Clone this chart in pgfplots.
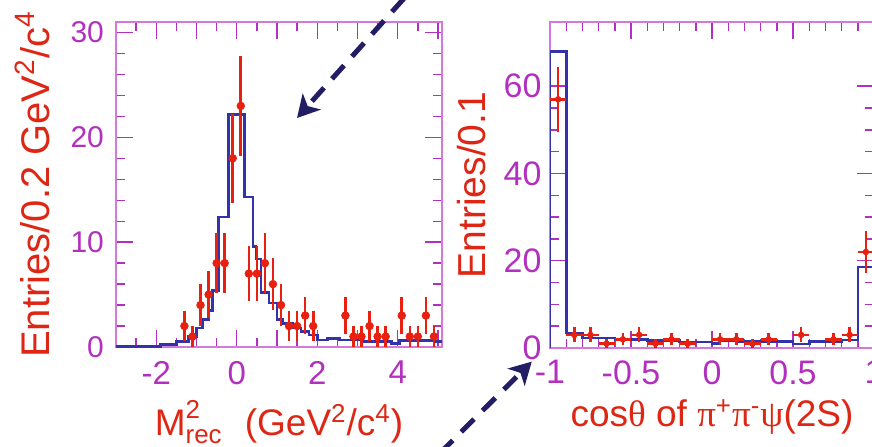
\documentclass[border=0pt]{standalone}
\usepackage{amsmath}
\usepackage{fontspec}
\setmainfont{Liberation Sans}
\newfontfamily\grk{Liberation Serif}
\usepackage{pgfplots}
\pgfplotsset{compat=1.18}
\usetikzlibrary{arrows.meta}

\definecolor{datared}{RGB}{232,32,16}
\definecolor{labred}{RGB}{222,38,20}
\definecolor{tickpurple}{RGB}{178,48,190}
\definecolor{framepink}{RGB}{212,120,218}
\definecolor{histblue}{RGB}{50,50,170}
\definecolor{arrownavy}{RGB}{35,30,100}

\pgfplotsset{
  panel/.style={
    scale only axis,
    anchor=south west,
    tick align=inside,
    xtick pos=both, ytick pos=both,
    major tick length=8.5pt, minor tick length=4.5pt,
    axis line style={framepink, line width=0.6pt},
    every tick/.style={tickpurple, line width=0.7pt},
    /pgf/number format/assume math mode=true,
    label style={labred},
    ylabel style={anchor=center},
    xlabel style={anchor=base},
  },
  dataerr/.style={only marks, datared, mark=*, mark size=1.9pt,
    error bars/y dir=both, error bars/y explicit, error bars/error mark=none,
    error bars/error bar style={line width=1.3pt, datared}},
}

\begin{document}
\begin{tikzpicture}
\useasboundingbox (0,0) rectangle (436pt,223pt);

% ---------------- left panel ----------------
\begin{axis}[panel,
  at={(58pt,49.5pt)}, width=163pt, height=162.5pt,
  xmin=-3, xmax=5.1, ymin=0, ymax=31,
  xtick={-3,-2,-1,0,1,2,3,4,5},
  xticklabels={{},-2,{},0,{},2,{},4,{}},
  minor x tick num=1,
  ytick={0,10,20,30}, minor y tick num=4,
  tick label style={tickpurple},
  xticklabel style={font=\fontsize{16.5}{18}\selectfont, yshift=-3.5pt},
  yticklabel style={font=\fontsize{15}{17}\selectfont, xshift=-2.5pt},
  xlabel={$\text{M}^{\text{2}}_{\text{rec}}$\hspace{0.6em}(GeV\textsuperscript{2}/c\textsuperscript{4})},
  ylabel={Entries/0.2 GeV\textsuperscript{2}/c\textsuperscript{4}},
  xlabel style={font=\fontsize{18.5}{20}\selectfont, at={(rel axis cs:0.5,-0.271)}},
  ylabel style={font=\fontsize{20}{22}\selectfont, at={(rel axis cs:-0.255,0.5)}},
]
\addplot[const plot, histblue, line width=1.3pt] coordinates {
 (-3.0,0.05) (-1.9,0.25) (-1.5,0.5) (-1.2,1.0) (-1.0,1.8) (-0.85,2.6)
 (-0.7,3.5) (-0.6,5.4) (-0.45,12.4) (-0.2,22.2) (0.2,14.3) (0.4,9.6)
 (0.48,8.4) (0.6,5.2) (0.8,4.2) (1.0,2.6) (1.15,2.25) (1.4,1.8)
 (1.6,1.5) (1.8,1.14) (2.0,0.67) (2.25,0.83) (2.55,0.65) (3.1,0.55)
 (3.85,0.35) (4.05,0.6) (4.9,0.5) (5.1,0.5)
};
\addplot[dataerr] coordinates {
 (-1.3,2) +- (0,1.41)
 (-1.1,1) +- (0,1)
 (-0.9,4) +- (0,2)
 (-0.7,5) +- (0,2.24)
 (-0.5,8) +- (0,2.83)
 (-0.3,8) +- (0,2.83)
 (-0.1,18) +- (0,4.24)
 (0.1,23) +- (0,4.8)
 (0.3,7) +- (0,2.65)
 (0.5,7) +- (0,2.65)
 (0.7,8) +- (0,2.83)
 (0.9,6) +- (0,2.45)
 (1.1,4) +- (0,2)
 (1.3,2) +- (0,1.41)
 (1.5,2) +- (0,1.41)
 (1.7,3) +- (0,1.73)
 (1.9,2) +- (0,1.41)
 (2.7,3) +- (0,1.73)
 (2.9,1) +- (0,1)
 (3.1,1) +- (0,1)
 (3.3,2) +- (0,1.41)
 (3.5,1) +- (0,1)
 (3.7,1) +- (0,1)
 (4.1,3) +- (0,1.73)
 (4.3,1) +- (0,1)
 (4.5,1) +- (0,1)
 (4.7,3) +- (0,1.73)
 (4.9,1) +- (0,1)
};
\end{axis}

% ---------------- right panel ----------------
\begin{axis}[panel,
  at={(275pt,49pt)}, width=162pt, height=163pt,
  xmin=-1, xmax=1, ymin=0, ymax=74.7,
  xtick={-1,-0.5,0,0.5,1},
  xticklabels={-1,-0.5,0,0.5,1},
  minor x tick num=4,
  ytick={0,20,40,60}, minor y tick num=3,
  tick label style={tickpurple, font=\fontsize{17}{19}\selectfont},
  xticklabel style={yshift=-2.7pt},
  yticklabel style={xshift=-0.7pt},
  xlabel={cos{\grk θ} of {\grk π}\textsuperscript{+}{\grk π}\textsuperscript{-}{\grk ψ}(2S)},
  ylabel={Entries/0.1},
  xlabel style={font=\fontsize{18.5}{20}\selectfont, at={(rel axis cs:0.5,-0.242)}},
  ylabel style={font=\fontsize{19.5}{21}\selectfont, at={(rel axis cs:-0.241,0.5)}},
]
\addplot[const plot, histblue, line width=1.3pt] coordinates {
 (-1,0) (-1,68) (-0.9,3.4) (-0.8,2.3) (-0.6,2.0) (-0.4,1.7) (-0.2,1.4)
 (0,1.1) (0.05,1.6) (0.15,1.45) (0.5,0.9) (0.6,1.45) (0.8,1.8)
 (0.9,18.6) (1.0,18.6)
};
\addplot[dataerr, mark size=1.4pt, error bars/x dir=both, error bars/x explicit] coordinates {
 (-0.95,57) +- (0.05,7.5)
 (-0.85,3) +- (0.05,1.7)
 (-0.75,3) +- (0.05,1.7)
 (-0.65,1) +- (0.05,1)
 (-0.55,2) +- (0.05,1.4)
 (-0.45,3) +- (0.05,1.7)
 (-0.35,1) +- (0.05,1)
 (-0.25,2) +- (0.05,1.4)
 (-0.15,1) +- (0.05,1)
 (0.05,2) +- (0.05,1.4)
 (0.15,2) +- (0.05,1.4)
 (0.25,1) +- (0.05,1)
 (0.35,2) +- (0.05,1.4)
 (0.55,3) +- (0.05,1.7)
 (0.75,2) +- (0.05,1.4)
 (0.85,3) +- (0.05,1.7)
 (0.95,22) +- (0.05,4.7)
};
\end{axis}

% ---------------- annotation arrows ----------------
\draw[arrownavy, line width=2.5pt, dash pattern=on 9pt off 6pt,
  -{Stealth[length=11pt,width=12pt,inset=3pt]}] (212pt,235pt) -- (148.5pt,164pt);
\draw[arrownavy, line width=2.5pt, dash pattern=on 9pt off 6pt,
  -{Stealth[length=11pt,width=12pt,inset=3pt]}] (220pt,-3.5pt) -- (265.9pt,42.2pt);
\end{tikzpicture}
\end{document}
